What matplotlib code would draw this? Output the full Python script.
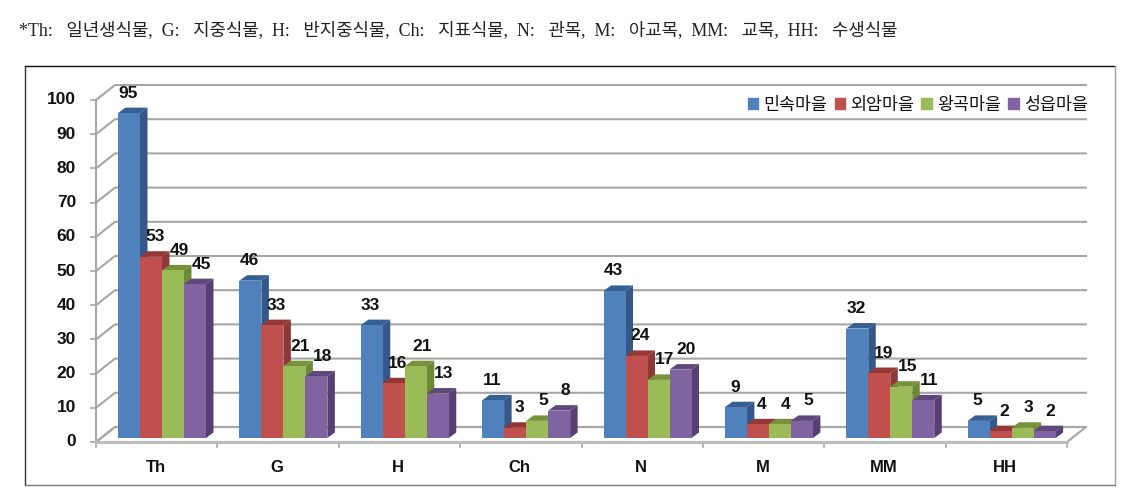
import matplotlib
matplotlib.use('Agg')
import matplotlib.pyplot as plt
from matplotlib.lines import Line2D
from matplotlib.patches import Patch

categories = ['Th', 'G', 'H', 'Ch', 'N', 'M', 'MM', 'HH']
series_names = ['민속마을', '외암마을', '왕곡마을', '성읍마을']
minsok = [95, 46, 33, 11, 43, 9, 32, 5]
oeam = [53, 33, 16, 3, 24, 4, 19, 2]
wanggok = [49, 21, 21, 5, 17, 4, 15, 3]
seongeup = [45, 18, 13, 8, 20, 5, 11, 2]
y_ticks = [0, 10, 20, 30, 40, 50, 60, 70, 80, 90, 100]
note = ('*Th:   일년생식물,  G:   지중식물,  H:   반지중식물,  Ch:   지표식물,  '
        'N:   관목,  M:   아교목,  MM:   교목,  HH:   수생식물')

W, H = 1137, 497
front = ['#4F81BD', '#C0504D', '#9BBB59', '#8064A2']
side = ['#34588A', '#8C3836', '#6C8A36', '#573F74']
top = ['#376092', '#953735', '#76923C', '#5F497A']
grid_col = '#A6A6A6'
label_font = 'Liberation Sans'

fig = plt.figure(figsize=(W / 100, H / 100), dpi=100)
# front plane of the fake 3d box: x 96..1067, y 442..100 in pixels
ax = fig.add_axes([96 / W, 1 - 442 / H, 971 / W, 342 / H])
ax.set_xlim(0, 8)
ax.set_ylim(0, 100)
ax.axis('off')

px = 8 / 971
py = 100 / 342
back_x, back_y = 19 * px, 15 * py
bar_w = 22 * px
bar_x0 = 22 * px
base = 4 * py
depth_x, depth_y = 7.5 * px, 5.5 * py
label_dx = [-1, 4, 6, 6]

# walls and floor
ax.fill([0, back_x, 8 + back_x, 8], [0, back_y, back_y, 0], fc='white', ec=grid_col, lw=1.5, clip_on=False, zorder=1)
for v in y_ticks:
    ax.plot([0, back_x, 8 + back_x], [v, v + back_y, v + back_y], color=grid_col, lw=1.5, clip_on=False, zorder=1)
    ax.plot([-5 * px, 0], [v, v], color=grid_col, lw=1.2, clip_on=False, zorder=1)
    ax.text(-20 * px, v, str(v), ha='right', va='center', fontsize=12.5, fontweight='bold', family=label_font, color='#111111')
ax.plot([0, 0], [0, 100], color=grid_col, lw=1.5, clip_on=False, zorder=1)
ax.plot([0, 8], [0, 0], color='#BDBDBD', lw=2.2, clip_on=False, zorder=2)
for i in range(9):
    ax.plot([i, i], [0, -5 * py], color=grid_col, lw=1.2, clip_on=False, zorder=1)

all_series = [minsok, oeam, wanggok, seongeup]
z = 3
for c in range(len(categories)):
    for s, values in enumerate(all_series):
        v = values[c]
        x0 = c + bar_x0 + s * bar_w
        y1 = base + v
        ax.bar(x0, v, bar_w, bottom=base, align='edge', color=front[s], zorder=z + 2)
        ax.fill([x0 + bar_w, x0 + bar_w + depth_x, x0 + bar_w + depth_x, x0 + bar_w],
                [base, base + depth_y, y1 + depth_y, y1], color=side[s], lw=0, clip_on=False, zorder=z + 1)
        ax.fill([x0, x0 + depth_x, x0 + bar_w + depth_x, x0 + bar_w],
                [y1, y1 + depth_y, y1 + depth_y, y1], color=top[s], lw=0, clip_on=False, zorder=z)
        ax.text(x0 + bar_w / 2 + label_dx[s] * px, y1 + 20 * py, str(v), ha='center', va='center',
                fontsize=12.5, fontweight='bold', family=label_font, color='#111111', zorder=200)
        z += 3
    ax.text(c + 0.49, -25 * py, categories[c], ha='center', va='center', fontsize=12,
            fontweight='bold', family=label_font, color='#111111')

handles = [Patch(color=col) for col in front]
ax.legend(handles, series_names, ncol=4, loc='center right', bbox_to_anchor=((1088 - 96) * px / 8, 1 + (100 - 105) / 342),
          frameon=False, prop={'family': 'Noto Sans CJK KR', 'size': 12.5, 'weight': 'medium'}, handlelength=0.6, handleheight=0.6,
          handletextpad=0.3, columnspacing=0.42, borderpad=0, borderaxespad=0, labelcolor='#111111').set_zorder(300)

# outer chart frame
def frame_line(x0, y0, x1, y1, col):
    fig.add_artist(Line2D([x0 / W, x1 / W], [1 - y0 / H, 1 - y1 / H], color=col, lw=1))

frame_line(25, 65.5, 1114.5, 65.5, '#111111')
frame_line(25, 65.5, 25, 484.5, '#333333')
frame_line(1114.5, 65.5, 1114.5, 484.5, '#A0A0A0')
frame_line(25, 484.5, 1114.5, 484.5, '#777777')

fig.text(19 / W, 1 - 30 / H, note, ha='left', va='center', fontsize=12.85,
         family=['Liberation Serif', 'Noto Sans CJK KR'], color='#222222')

fig.savefig('out.png', dpi=100, facecolor='white')
